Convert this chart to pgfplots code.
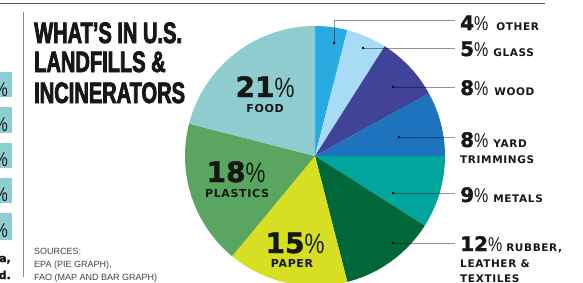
\documentclass[border=0pt]{standalone}
\usepackage{pgfplots}
\pgfplotsset{compat=1.18}
\usepackage{pgfplotstable}
\usepackage{fontspec}
\setmainfont{Liberation Sans}
\newfontfamily\titlefont{Liberation Sans}[FakeStretch=0.68,FakeBold=2.5]
\newfontfamily\numfont{DejaVu Sans}[FakeBold=1.5]
\newfontfamily\pctfont{Liberation Sans}[FakeStretch=0.8]
\newfontfamily\lblfont{DejaVu Sans}[LetterSpace=6]
\newfontfamily\srcfont{Liberation Sans}

\definecolor{slice0}{RGB}{41,171,226}
\definecolor{slice1}{RGB}{168,220,246}
\definecolor{slice2}{RGB}{64,67,151}
\definecolor{slice3}{RGB}{30,115,190}
\definecolor{slice4}{RGB}{0,166,156}
\definecolor{slice5}{RGB}{0,104,56}
\definecolor{slice6}{RGB}{215,223,35}
\definecolor{slice7}{RGB}{90,166,96}
\definecolor{slice8}{RGB}{142,204,208}
\definecolor{leftteal}{RGB}{140,206,210}
\definecolor{ink}{RGB}{22,24,22}

% share of U.S. landfill & incinerator waste, clockwise from 12 o'clock
\pgfplotstableread{
label value
Other 4
Glass 5
Wood 8
Yard 8
Metals 9
Rubber 12
Paper 15
Plastics 18
Food 21
}\piedata

\newcommand{\bignum}[1]{{\numfont\bfseries\fontsize{28}{30}\selectfont #1{\pctfont\mdseries\%}}}
\newcommand{\rnum}[1]{{\numfont\bfseries\fontsize{20}{22}\selectfont #1{\pctfont\mdseries\%}}}
\newcommand{\lbl}[1]{{\lblfont\bfseries\fontsize{10.5}{12}\selectfont #1}}
\newcommand{\ilbl}[1]{{\lblfont\bfseries\fontsize{11}{12}\selectfont #1}}

\begin{document}
\begin{tikzpicture}
\def\cum{0}
\pgfplotsforeachungrouped \i in {0,...,8}{%
  \pgfplotstablegetelem{\i}{value}\of\piedata
  \pgfmathsetmacro\startang{90-3.6*\cum}%
  \pgfmathsetmacro\cum{\cum+\pgfplotsretval}%
  \pgfmathsetmacro\endang{90-3.6*\cum}%
  \expandafter\xdef\csname sa\i\endcsname{\startang}%
  \expandafter\xdef\csname ea\i\endcsname{\endang}%
}
\begin{axis}[
  x=1pt, y=1pt, anchor=origin, at={(0,0)},
  xmin=0, xmax=583, ymin=0, ymax=282,
  hide axis, clip=true,
]
% pie slices
\pgfplotsinvokeforeach{0,...,8}{%
  \edef\slicecmd{\noexpand\fill[fill=slice#1] (axis cs:315,126) -- ++(\csname sa#1\endcsname:130pt) arc[start angle=\csname sa#1\endcsname, end angle=\csname ea#1\endcsname, radius=130pt] -- cycle;}%
  \slicecmd
}
% leader lines
\addplot[draw=black, draw opacity=0.42, line width=0.8pt, mark=none] coordinates {(334,239) (334,262) (455,262)};
\addplot[draw=black, draw opacity=0.42, line width=0.8pt, mark=none] coordinates {(363,234) (455,234)};
\addplot[draw=black, draw opacity=0.42, line width=0.8pt, mark=none] coordinates {(393,195) (455,195)};
\addplot[draw=black, draw opacity=0.42, line width=0.8pt, mark=none] coordinates {(399,145) (455,145)};
\addplot[draw=black, draw opacity=0.42, line width=0.8pt, mark=none] coordinates {(393,89) (455,89)};
\addplot[draw=black, draw opacity=0.42, line width=0.8pt, mark=none] coordinates {(393,39) (455,39)};
\addplot[only marks, mark=*, mark size=1.1pt, black] coordinates {(334,239) (363,234) (393,195) (399,145) (393,89) (393,39)};

% frame lines
\draw[black!65, line width=0.9pt] (axis cs:0,279) -- (axis cs:545,279);
\draw[black!45, line width=0.9pt] (axis cs:23,270) -- (axis cs:23,5);

% clipped left column (continues off the left edge, as in the reference)
\fill[leftteal] (axis cs:-2,185) rectangle (axis cs:12,210);
\fill[leftteal] (axis cs:-2,149) rectangle (axis cs:12,175);
\fill[leftteal] (axis cs:-2,114) rectangle (axis cs:12,139);
\fill[leftteal] (axis cs:-2,79) rectangle (axis cs:12,104);
\fill[leftteal] (axis cs:-2,42) rectangle (axis cs:12,69);
\pgfplotsinvokeforeach{186,151,116,81,45}{
  \node[anchor=base east, inner sep=0, text=ink, font={\pctfont\fontsize{20}{22}\selectfont}] at (axis cs:8,#1) {\%};
}
\node[anchor=base east, inner sep=0, text=ink, font={\numfont\bfseries\fontsize{11}{12}\selectfont}] at (axis cs:11,20) {a,};
\node[anchor=base east, inner sep=0, text=ink, font={\numfont\bfseries\fontsize{11}{12}\selectfont}] at (axis cs:11,3) {d.};

% title
\node[anchor=base west, inner sep=0, text=ink, font={\titlefont\bfseries\fontsize{29.5}{30}\selectfont}] at (axis cs:34,239) {WHAT’S IN U.S.};
\node[anchor=base west, inner sep=0, text=ink, font={\titlefont\bfseries\fontsize{29.5}{30}\selectfont}] at (axis cs:34,210) {LANDFILLS \&};
\node[anchor=base west, inner sep=0, text=ink, font={\titlefont\bfseries\fontsize{29.5}{30}\selectfont}] at (axis cs:34,179) {INCINERATORS};

% sources
\node[anchor=base west, inner sep=0, text=black!75, font={\srcfont\fontsize{9}{10}\selectfont}] at (axis cs:34,28) {SOURCES:};
\node[anchor=base west, inner sep=0, text=black!75, font={\srcfont\fontsize{9}{10}\selectfont}] at (axis cs:34,15) {EPA (PIE GRAPH),};
\node[anchor=base west, inner sep=0, text=black!75, font={\srcfont\fontsize{9}{10}\selectfont}] at (axis cs:34,2) {FAO (MAP AND BAR GRAPH)};

% inner labels
\node[anchor=base, inner sep=0, text=ink] at (axis cs:265,185) {\bignum{21}};
\node[anchor=base, inner sep=0, text=ink] at (axis cs:265,170) {\ilbl{FOOD}};
\node[anchor=base, inner sep=0, text=ink] at (axis cs:236,100) {\bignum{18}};
\node[anchor=base, inner sep=0, text=ink] at (axis cs:237,85) {\ilbl{PLASTICS}};
\node[anchor=base, inner sep=0, text=ink] at (axis cs:295,29) {\bignum{15}};
\node[anchor=base, inner sep=0, text=ink] at (axis cs:292,15) {\ilbl{PAPER}};

% right labels
\node[anchor=base west, inner sep=0, text=ink] at (axis cs:460,252) {\rnum{4}\hspace{8pt}\lbl{OTHER}};
\node[anchor=base west, inner sep=0, text=ink] at (axis cs:460,226) {\rnum{5}\hspace{5pt}\lbl{GLASS}};
\node[anchor=base west, inner sep=0, text=ink] at (axis cs:460,187) {\rnum{8}\hspace{6pt}\lbl{WOOD}};
\node[anchor=base west, inner sep=0, text=ink] at (axis cs:460,135) {\rnum{8}\hspace{5pt}\lbl{YARD}};
\node[anchor=base west, inner sep=0, text=ink] at (axis cs:460,119) {\lbl{TRIMMINGS}};
\node[anchor=base west, inner sep=0, text=ink] at (axis cs:460,80) {\rnum{9}\hspace{5pt}\lbl{METALS}};
\node[anchor=base west, inner sep=0, text=ink] at (axis cs:460,31) {\rnum{12}\hspace{4pt}\lbl{RUBBER,}};
\node[anchor=base west, inner sep=0, text=ink] at (axis cs:460,15) {\lbl{LEATHER \&}};
\node[anchor=base west, inner sep=0, text=ink] at (axis cs:460,0) {\lbl{TEXTILES}};
\end{axis}
\pgfresetboundingbox
\useasboundingbox (0,0) rectangle (583pt,282pt);
\end{tikzpicture}
\end{document}
